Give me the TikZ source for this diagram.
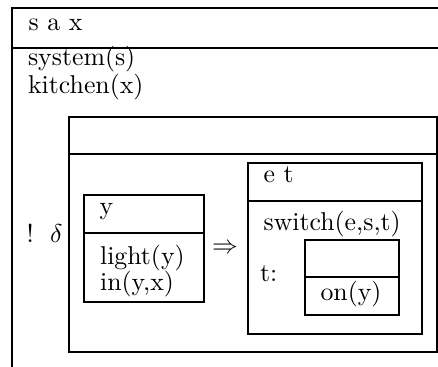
\documentclass[tikz,border=0pt]{standalone}
\begin{document}
\begin{tikzpicture}[x=1pt,y=-1pt,line width=2pt,
  txt/.style={anchor=base west,inner sep=0pt,scale=2.58,font=\fontsize{10}{12}\selectfont},
  drsbox/.style={draw,rectangle,inner sep=0pt,anchor=north west}]
\useasboundingbox (0,0) rectangle (438,366);
% outer (cut off) box
\coordinate (otl) at (11.5,8.5);
\coordinate (otr) at (445,8.5);
\coordinate (obl) at (11.5,375);
\draw (otr) -- (otl) -- (obl);
\draw (otl |- 0,48.5) -- (otr |- 0,48.5);
\node[txt] (sax) at (26,30.7) {s a x};
\node[txt] (sys) at (25.5,66) {system(s)};
\node[txt] (kit) at (25.5,94) {kitchen(x)};
% middle box
\node[drsbox,minimum width=368pt,minimum height=235pt] (mid) at (68,116) {};
\draw (mid.west |- 0,154) -- (mid.east |- 0,154);
\node[txt] (bang) at (24,242) {!};
\node[txt] (delta) at (47.5,242) {$\delta$};
% left box
\node[drsbox,minimum width=120pt,minimum height=106.5pt] (lb) at (83.3,194.3) {};
\draw (lb.west |- 0,233.3) -- (lb.east |- 0,233.3);
\node[txt] (yv) at (97,214) {y};
\node[txt] (light) at (97.5,264) {light(y)};
\node[txt] (iny) at (97.5,290) {in(y,x)};
% implication
\node[inner sep=0pt,scale=2.58,font=\fontsize{10}{12}\selectfont] (imp) at (225,248.3) {$\Rightarrow$};
% right box
\node[drsbox,minimum width=173.8pt,minimum height=170.7pt] (rb) at (246.7,162) {};
\draw (rb.west |- 0,201.3) -- (rb.east |- 0,201.3);
\node[txt] (et) at (261,182.5) {e t};
\node[txt] (sw) at (261,230.7) {switch(e,s,t)};
\node[txt] (tc) at (257.5,281.7) {t:};
% inner box
\node[drsbox,minimum width=94pt,minimum height=75.3pt] (ib) at (304,239) {};
\draw (ib.west |- 0,277.3) -- (ib.east |- 0,277.3);
\node[txt] (on) at (318,300) {on(y)};
\end{tikzpicture}
\end{document}
